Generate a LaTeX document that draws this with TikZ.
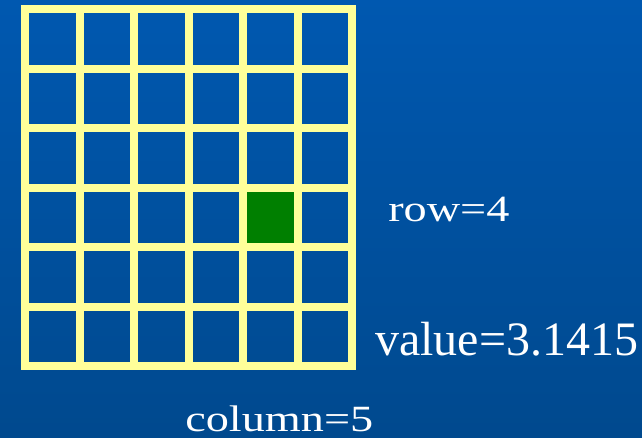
\documentclass[tikz,border=0pt]{standalone}
\usepackage{fontspec}
\setmainfont{Liberation Serif}
\usetikzlibrary{positioning}
\definecolor{bgtop}{HTML}{0058B0}
\definecolor{bgbot}{HTML}{00498E}
\definecolor{gridyel}{HTML}{FFFF99}
\definecolor{cellgreen}{HTML}{007F00}
\tikzset{
  gridline/.style={draw=gridyel, line width=8pt, line cap=rect},
  hit/.style={fill=cellgreen, draw=none},
  lblbase/.style={text=white, inner sep=0pt, anchor=base west},
  lbl/.style={lblbase, font=\fontsize{37}{40}\selectfont, xscale=1.25},
  lblbig/.style={lblbase, font=\fontsize{48}{52}\selectfont}
}

\begin{document}
\begin{tikzpicture}[x=1pt, y=-1pt]

  \useasboundingbox (0,0) rectangle (642,437);
  \shade[top color=bgtop, bottom color=bgbot] (0,0) rectangle (642,437);

  % selected cell: row 4, column 5
  \fill[hit] (243,187.5) rectangle (297.5,247);

  \foreach \i in {0,...,6} {
    \draw[gridline] ({25+54.5*\i},9) -- ({25+54.5*\i},366);
    \draw[gridline] (25,{9+59.5*\i}) -- (352,{9+59.5*\i});
  }

  \node[lbl] (row) at (388,221.5) {row=4};
  \node[lblbig] (val) at (375,355) {value=3.1415};
  \node[lbl] (col) at (185,431) {column=5};

\end{tikzpicture}
\end{document}
